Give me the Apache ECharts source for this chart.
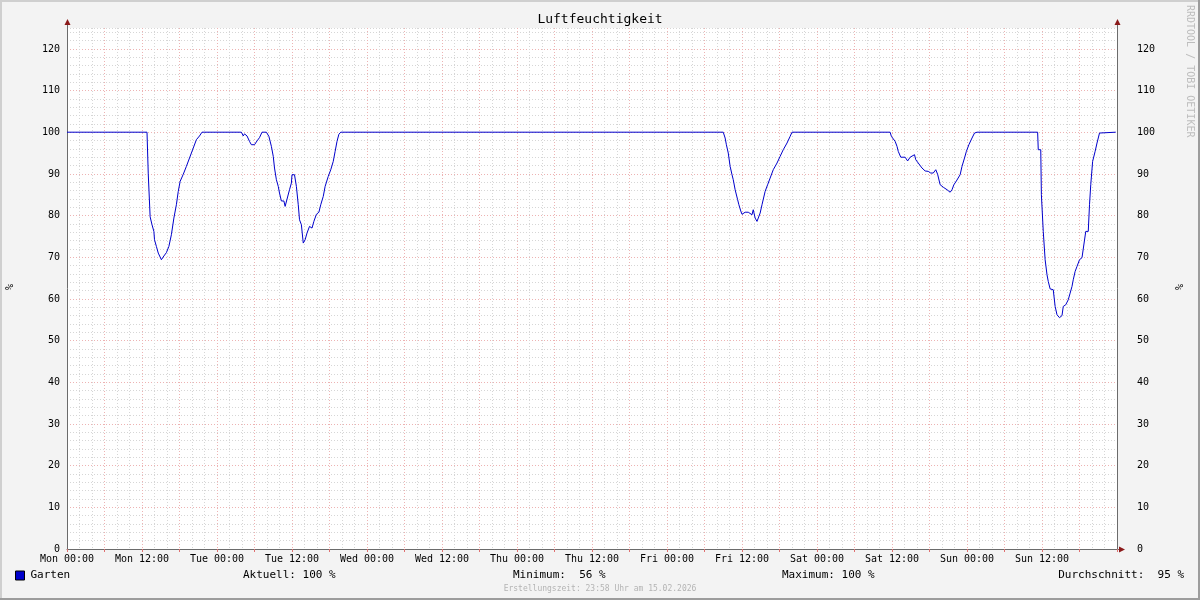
<!DOCTYPE html>
<html>
<head>
<meta charset="utf-8">
<script src="https://cdn.jsdelivr.net/npm/echarts@6/dist/echarts.min.js"></script>
<style>
html,body{margin:0;padding:0;background:#f3f3f3;}
#c{width:1200px;height:600px;}
</style>
</head>
<body>
<div id="c"></div>
<script>
// ---- data (hours since Mon 00:00, relative humidity %) ----
const title = 'Luftfeuchtigkeit';
const seriesName = 'Garten';
const dayNames = ['Mon', 'Tue', 'Wed', 'Thu', 'Fri', 'Sat', 'Sun', 'Mon'];
const hours = [
  0, 12.8, 13.0, 13.3, 13.6, 13.9, 14.0, 14.3, 14.6, 15.1, 15.5, 15.9, 16.3, 16.7, 17.1, 17.5, 17.8, 18.1, 18.6, 19.1, 19.6, 20.2, 20.7, 21.2, 21.6,
  27.9, 28.2, 28.4, 28.8, 29.2, 29.5, 30.0, 30.4, 30.8, 31.2, 31.9, 32.3, 32.7, 33.0, 33.2, 33.5, 33.8, 34.0, 34.3, 34.7, 34.9, 35.2, 35.6, 35.9, 36.0, 36.4, 36.7, 37.0, 37.2, 37.5, 37.8, 38.1, 38.4, 38.8, 39.2, 39.5, 39.9, 40.3, 40.6, 41.0, 41.3, 41.8, 42.2, 42.6, 42.9, 43.2, 43.5, 43.8,
  105.0, 105.3, 105.5, 105.8, 106.1, 106.4, 106.6, 106.9, 107.3, 107.5, 107.8, 108.0, 108.5, 109.0, 109.3, 109.6, 109.8, 110.1, 110.4, 110.6, 110.9, 111.2, 111.7, 112.1, 112.5, 113.0, 113.6, 114.1, 114.6, 115.2, 115.7, 116.0,
  131.7, 131.9, 132.5, 132.8, 133.0, 133.4, 134.1, 134.5, 134.9, 135.2, 135.6, 135.8, 136.2, 136.8, 137.3, 137.8, 138.2, 138.6, 139.0, 139.3, 139.7, 140.2, 140.8, 141.3, 141.6, 141.9, 142.3, 142.9, 143.2, 143.6, 143.9, 144.3, 144.8, 145.2, 145.6,
  155.3, 155.4, 155.8, 155.9, 156.2, 156.5, 156.8, 157.0, 157.3, 157.8, 158.1, 158.4, 158.8, 159.2, 159.4, 159.8, 160.2, 160.5, 160.8, 161.0, 161.3, 161.6, 162.0, 162.4, 162.7, 163.0, 163.4, 163.6, 163.8, 164.1, 164.5, 164.8, 165.2, 165.4, 167.8
];
const humidity = [
  100, 100, 90, 79.7, 77.8, 76.2, 74.2, 72.6, 71, 69.4, 70.3, 71.1, 72.6, 75.4, 79.4, 82.6, 85.8, 88.2, 89.9, 91.8, 93.8, 96.2, 98.2, 99.1, 100,
  100, 99.1, 99.6, 99.1, 97.8, 97, 97, 97.9, 98.7, 100, 100, 99, 96.6, 94.2, 91.4, 88.6, 87, 85.4, 83.5, 83.5, 82.2, 82.2, 86.2, 87.8, 89.8, 89.8, 87, 82.6, 79, 77.8, 73.4, 74.2, 75.8, 77.4, 77, 78.6, 80.3, 80.8, 82.6, 84.6, 87, 89.4, 91, 93, 95.4, 97.8, 99.5, 100,
  100, 98.6, 97, 95, 91.8, 89.8, 88.6, 86.2, 83.8, 82.6, 81.1, 80.3, 80.8, 80.8, 81.1, 80.2, 81.4, 79.4, 78.6, 78.6, 80.6, 82.6, 85.8, 87.4, 89, 91, 92.6, 94.2, 95.8, 97.4, 99, 100,
  100, 99, 97.8, 96.6, 95.4, 94, 94, 93.1, 94, 94.2, 94.6, 93.4, 92.6, 91.4, 90.7, 90.6, 90.2, 90.2, 91, 89.9, 87.4, 86.8, 86.2, 85.6, 86.2, 87.4, 88.3, 89.8, 91.8, 93.8, 95.4, 97, 98.6, 99.8, 100,
  100, 95.8, 95.8, 85, 76.2, 69.4, 65.8, 64.2, 62.4, 62.2, 58.2, 56.2, 55.5, 56, 58.2, 58.6, 59.8, 61.4, 63, 64.6, 66.6, 67.8, 69.4, 69.9, 69.9, 76.2, 76.2, 82.6, 87.4, 93, 95.4, 97.4, 99.8, 100, 100
];
const statLabels = ['Aktuell:', 'Minimum:', 'Maximum:', 'Durchschnitt:'];
const statValues = ['100 %', ' 56 %', '100 %', ' 95 %'];
const footer = 'Erstellungszeit: 23:58 Uhr am 15.02.2026';
const watermark = 'RRDTOOL / TOBI OETIKER';
const unit = '%';

// ---- chart ----
const MONO = '"DejaVu Sans Mono", "Liberation Mono", monospace';
const minorGrid = {show: true, lineStyle: {color: '#d6d6d6', width: 1, type: [1, 2]}};
const majorGrid = {show: true, lineStyle: {color: '#edb3b3', width: 1, type: [1, 2]}};
const pad2 = n => (n < 10 ? '0' : '') + n;
const data = hours.map((h, i) => [h, humidity[i]]);

const chart = echarts.init(document.getElementById('c'), null, {renderer: 'canvas'});
const axisCol = '#6b6b6b';
const arrowCol = '#8b1a1a';

chart.setOption({
  animation: false,
  backgroundColor: '#f3f3f3',
  grid: [
    {left: 67, right: 83, top: 28, bottom: 51, show: true, backgroundColor: '#ffffff', borderWidth: 0},
    {left: 67, right: 83, top: 49, bottom: 51, show: false}
  ],
  legend: {
    data: [seriesName], left: 15, top: 570, padding: 0,
    itemWidth: 9, itemHeight: 9, icon: 'rect',
    itemStyle: {borderColor: '#000', borderWidth: 1},
    textStyle: {fontFamily: MONO, fontSize: 11, color: '#000', padding: [0, 0, 0, 1]}
  },
  xAxis: [
    {type: 'value', gridIndex: 0, position: 'bottom', min: 0, max: 168, interval: 2,
     axisLine: {show: false}, axisTick: {show: false}, axisLabel: {show: false}, splitLine: minorGrid},
    {type: 'value', gridIndex: 0, position: 'bottom', min: 0, max: 168, interval: 6,
     axisLine: {show: false}, axisTick: {show: true, length: 3, lineStyle: {color: '#e07070'}},
     axisLabel: {show: false}, splitLine: majorGrid},
    {type: 'value', gridIndex: 0, position: 'bottom', min: 0, max: 168, interval: 12,
     axisLine: {show: true, onZero: false, lineStyle: {color: axisCol, width: 1}},
     axisTick: {show: false}, splitLine: {show: false},
     axisLabel: {show: true, margin: 5, fontFamily: MONO, fontSize: 10, color: '#000', showMaxLabel: false,
       formatter: v => dayNames[Math.floor(v / 24)] + ' ' + pad2(v % 24) + ':00'}},
    {type: 'value', gridIndex: 1, position: 'bottom', min: 0, max: 168, show: false}
  ],
  yAxis: [
    {type: 'value', gridIndex: 0, position: 'left', min: 0, max: 125, interval: 2,
     axisLine: {show: true, onZero: false, lineStyle: {color: axisCol, width: 1}},
     axisTick: {show: false}, axisLabel: {show: false}, splitLine: minorGrid},
    {type: 'value', gridIndex: 0, position: 'right', min: 0, max: 125, interval: 2,
     axisLine: {show: true, onZero: false, lineStyle: {color: axisCol, width: 1}},
     axisTick: {show: false}, axisLabel: {show: false}, splitLine: {show: false}},
    {type: 'value', gridIndex: 1, position: 'left', min: 0, max: 120, interval: 10,
     axisLine: {show: false}, axisTick: {show: false}, splitLine: majorGrid,
     axisLabel: {show: true, margin: 7, fontFamily: MONO, fontSize: 10, color: '#000', padding: [2, 0, 0, 0]}},
    {type: 'value', gridIndex: 1, position: 'right', min: 0, max: 120, interval: 10,
     axisLine: {show: false}, axisTick: {show: false}, splitLine: {show: false},
     axisLabel: {show: true, margin: 20, fontFamily: MONO, fontSize: 10, color: '#000', padding: [2, 0, 0, 0]}}
  ],
  series: [{
    name: seriesName, type: 'line', xAxisIndex: 0, yAxisIndex: 0,
    data: data, showSymbol: false, symbol: 'none',
    lineStyle: {color: '#0000cc', width: 1}, itemStyle: {color: '#0000cc'}, z: 5
  }],
  graphic: [
    // frame
    {type: 'line', shape: {x1: 0, y1: 1, x2: 1200, y2: 1}, style: {stroke: '#cfcfcf', lineWidth: 2}, silent: true},
    {type: 'line', shape: {x1: 1, y1: 0, x2: 1, y2: 600}, style: {stroke: '#cfcfcf', lineWidth: 2}, silent: true},
    {type: 'line', shape: {x1: 0, y1: 599, x2: 1200, y2: 599}, style: {stroke: '#9c9c9c', lineWidth: 2}, silent: true},
    {type: 'line', shape: {x1: 1199, y1: 0, x2: 1199, y2: 600}, style: {stroke: '#9c9c9c', lineWidth: 2}, silent: true},
    // axis extensions and arrows
    {type: 'line', shape: {x1: 67.5, y1: 28, x2: 67.5, y2: 23}, style: {stroke: axisCol, lineWidth: 1}, silent: true},
    {type: 'line', shape: {x1: 1117.5, y1: 28, x2: 1117.5, y2: 23}, style: {stroke: axisCol, lineWidth: 1}, silent: true},
    {type: 'line', shape: {x1: 1117, y1: 549.5, x2: 1121, y2: 549.5}, style: {stroke: axisCol, lineWidth: 1}, silent: true},
    {type: 'polygon', shape: {points: [[64.5, 25], [70.5, 25], [67.5, 19]]}, style: {fill: arrowCol}, silent: true},
    {type: 'polygon', shape: {points: [[1114.5, 25], [1120.5, 25], [1117.5, 19]]}, style: {fill: arrowCol}, silent: true},
    {type: 'polygon', shape: {points: [[1119, 546.5], [1119, 552.5], [1125, 549.5]]}, style: {fill: arrowCol}, silent: true},
    // title
    {type: 'text', x: 600, y: 20, style: {text: title, font: '13px ' + MONO, fill: '#000', textAlign: 'center', textVerticalAlign: 'middle'}, silent: true},
    // unit labels
    {type: 'text', x: 10, y: 287, rotation: Math.PI / 2, style: {text: unit, font: '10px ' + MONO, fill: '#000', textAlign: 'center', textVerticalAlign: 'middle'}, silent: true},
    {type: 'text', x: 1180, y: 287, rotation: Math.PI / 2, style: {text: unit, font: '10px ' + MONO, fill: '#000', textAlign: 'center', textVerticalAlign: 'middle'}, silent: true},
    // watermark
    {type: 'text', x: 1190, y: 5, rotation: -Math.PI / 2, style: {text: watermark, font: '10px ' + MONO, fill: '#bdbdbd', textAlign: 'left', textVerticalAlign: 'middle'}, silent: true},
    // statistics
    {type: 'text', x: 243, y: 575, style: {text: statLabels[0] + ' ' + statValues[0], font: '11px ' + MONO, fill: '#000', textAlign: 'left', textVerticalAlign: 'middle'}, silent: true},
    {type: 'text', x: 513, y: 575, style: {text: statLabels[1] + ' ' + statValues[1], font: '11px ' + MONO, fill: '#000', textAlign: 'left', textVerticalAlign: 'middle'}, silent: true},
    {type: 'text', x: 782, y: 575, style: {text: statLabels[2] + ' ' + statValues[2], font: '11px ' + MONO, fill: '#000', textAlign: 'left', textVerticalAlign: 'middle'}, silent: true},
    {type: 'text', x: 1184, y: 575, style: {text: statLabels[3] + ' ' + statValues[3], font: '11px ' + MONO, fill: '#000', textAlign: 'right', textVerticalAlign: 'middle'}, silent: true},
    // footer
    {type: 'text', x: 600, y: 589, style: {text: footer, font: '8px ' + MONO, fill: '#b4b4b4', textAlign: 'center', textVerticalAlign: 'middle'}, silent: true}
  ]
});
</script>
</body>
</html>
